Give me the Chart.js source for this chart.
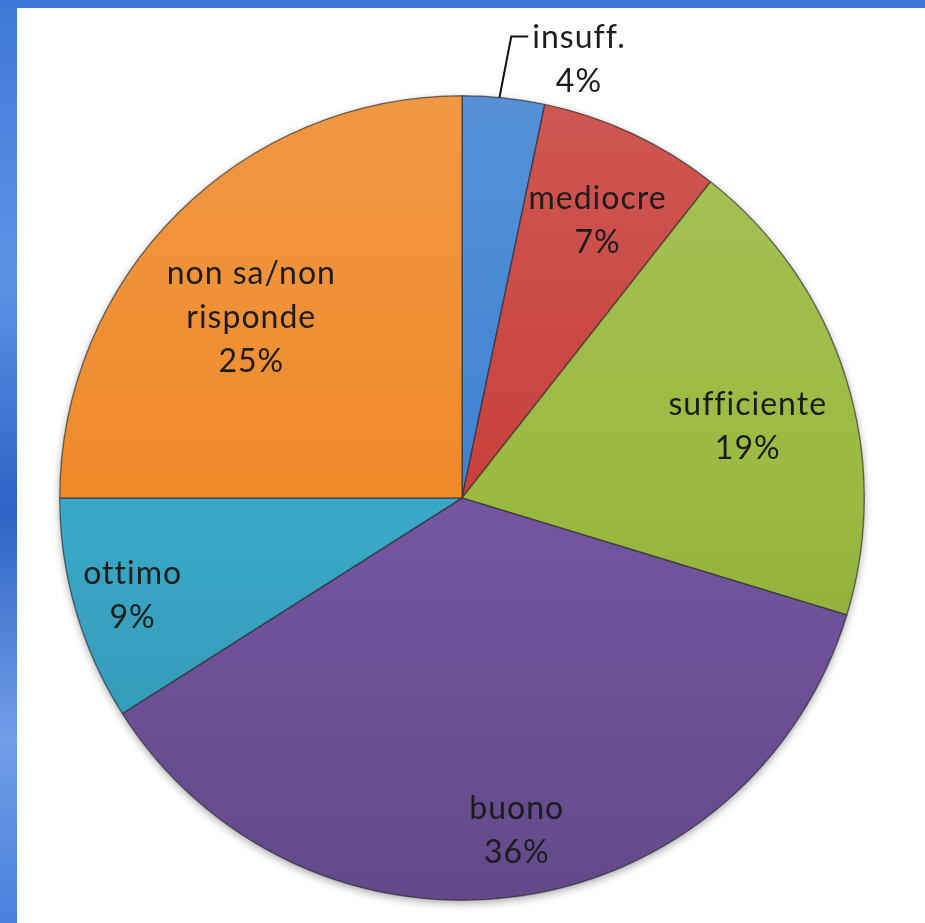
<!DOCTYPE html>
<html>
<head>
<meta charset="utf-8">
<script src="https://cdn.jsdelivr.net/npm/chart.js@4/dist/chart.umd.min.js"></script>
<style>
  html, body { margin:0; padding:0; width:925px; height:923px; overflow:hidden; }
  body { background: linear-gradient(180deg, #3f78d6 0%, #5d93e6 30%, #2f63c4 55%, #6f9ee8 80%, #4a80dc 100%); position:relative; }
  #panel { position:absolute; left:17px; top:8px; right:0; bottom:0; background:#ffffff; }
  #wrap { position:absolute; left:0; top:0; width:925px; height:923px; }
</style>
</head>
<body>
<div id="panel"></div>
<div id="wrap"><canvas id="c" width="925" height="923"></canvas></div>
<script>
const categories = ["insuff.", "mediocre", "sufficiente", "buono", "ottimo", "non sa/non risponde"];
const labelLines = [["insuff.", "4%"], ["mediocre", "7%"], ["sufficiente", "19%"], ["buono", "36%"], ["ottimo", "9%"], ["non sa/non", "risponde", "25%"]];
const values = [3.3, 7.3, 19.1, 36.3, 9.0, 25.0];
const colors = ["#3f82d2", "#c8403c", "#9aba40", "#7556a1", "#3aa9c9", "#ef8a2a"];
// label placement: radius factor and angle shift (degrees) relative to slice middle
const labelRadius = [1.128, 0.768, 0.732, 0.839, 0.854, 0.69];
const labelShift = [9.0, 1.0, 3.5, -1.6, -0.3, -4.4];

function shade(hex, amt) {
  const n = parseInt(hex.slice(1), 16);
  let r = (n >> 16) & 255, g = (n >> 8) & 255, b = n & 255;
  const f = v => Math.max(0, Math.min(255, Math.round(amt >= 0 ? v + (255 - v) * amt : v * (1 + amt))));
  return `rgb(${f(r)},${f(g)},${f(b)})`;
}

const labelPlugin = {
  id: 'sliceLabels',
  beforeDatasetsDraw(chart) {
    const meta = chart.getDatasetMeta(0);
    const a = meta.data[0];
    const ctx = chart.ctx;
    ctx.save();
    ctx.shadowColor = 'rgba(0,0,0,0.35)';
    ctx.shadowBlur = 8;
    ctx.shadowOffsetY = 3;
    ctx.beginPath();
    ctx.arc(a.x, a.y, a.outerRadius, 0, Math.PI * 2);
    ctx.fillStyle = '#555';
    ctx.fill();
    ctx.restore();
  },
  afterDatasetsDraw(chart) {
    const ctx = chart.ctx;
    const meta = chart.getDatasetMeta(0);
    ctx.save();
    ctx.font = '32px Lato, "Open Sans", sans-serif';
    if ('letterSpacing' in ctx) ctx.letterSpacing = '1px';
    ctx.fillStyle = '#1c1c1c';
    ctx.textAlign = 'center';
    ctx.textBaseline = 'middle';
    meta.data.forEach((arc, i) => {
      const mid = (arc.startAngle + arc.endAngle) / 2 + labelShift[i] * Math.PI / 180;
      const r = arc.outerRadius * labelRadius[i];
      const x = arc.x + Math.cos(mid) * r;
      const y = arc.y + Math.sin(mid) * r;
      const lines = labelLines[i];
      const lh = 44;
      const y0 = y - (lines.length - 1) * lh / 2;
      lines.forEach((t, k) => ctx.fillText(t, x, y0 + k * lh));
      if (labelRadius[i] > 1) {
        const w = ctx.measureText(lines[0]).width;
        const left = x - w / 2;
        const sa = arc.startAngle + (arc.endAngle - arc.startAngle) * 0.45;
        const px = arc.x + Math.cos(sa) * arc.outerRadius;
        const py = arc.y + Math.sin(sa) * arc.outerRadius;
        ctx.beginPath();
        ctx.strokeStyle = '#111';
        ctx.lineWidth = 2;
        ctx.moveTo(px, py);
        ctx.lineTo(left - 21, y0 - 1);
        ctx.lineTo(left - 4, y0 - 1);
        ctx.stroke();
      }
    });
    ctx.restore();
  }
};

new Chart(document.getElementById('c'), {
  type: 'pie',
  data: {
    labels: categories,
    datasets: [{
      data: values,
      backgroundColor: (c) => {
        const chart = c.chart;
        const area = chart.chartArea;
        const base = colors[c.dataIndex];
        if (!area) return base;
        const g = chart.ctx.createLinearGradient(0, area.top, 0, area.bottom);
        g.addColorStop(0, shade(base, 0.12));
        g.addColorStop(0.5, base);
        g.addColorStop(1, shade(base, -0.15));
        return g;
      },
      borderColor: 'rgba(40,40,40,0.55)',
      borderWidth: 1.5
    }]
  },
  options: {
    responsive: false,
    animation: false,
    layout: { padding: { left: 59, right: 60, top: 95, bottom: 22 } },
    plugins: { legend: { display: false }, tooltip: { enabled: false } }
  },
  plugins: [labelPlugin]
});
</script>
</body>
</html>
